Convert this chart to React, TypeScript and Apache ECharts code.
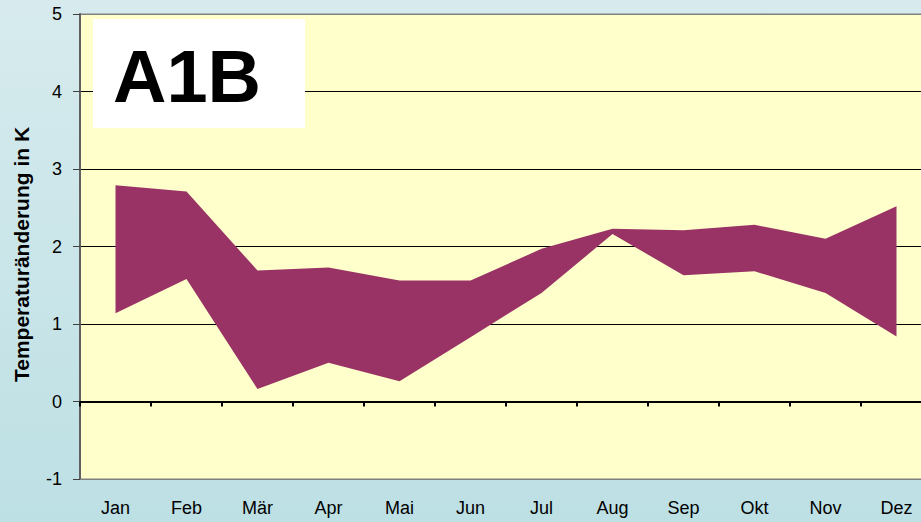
import React, { useEffect, useRef } from "react";
import * as echarts from "echarts";

const months = ["Jan", "Feb", "Mär", "Apr", "Mai", "Jun", "Jul", "Aug", "Sep", "Okt", "Nov", "Dez"];
const lowerValues = [1.14, 1.58, 0.16, 0.5, 0.26, 0.83, 1.4, 2.16, 1.63, 1.68, 1.4, 0.84];
const upperValues = [2.79, 2.71, 1.69, 1.73, 1.56, 1.56, 1.97, 2.23, 2.21, 2.28, 2.1, 2.52];
const yTicks = { min: -1, max: 5, interval: 1 };
const yAxisTitle = "Temperaturänderung in K";
const scenarioLabel = "A1B";

const FONT = "Arial, 'Liberation Sans', sans-serif";

export default function App() {
  const ref = useRef<HTMLDivElement>(null);
  useEffect(() => {
    if (!ref.current) return;
    const chart = echarts.init(ref.current, undefined, { renderer: "svg" });
    const diff = upperValues.map((u, i) => +(u - lowerValues[i]).toFixed(3));
    chart.setOption({
      animation: false,
      backgroundColor: "transparent",
      grid: {
        left: 80,
        top: 14,
        width: 852,
        height: 465,
        show: true,
        backgroundColor: "#FFFFCC",
        borderColor: "#808080",
        borderWidth: 1,
      },
      xAxis: [
        {
          type: "category",
          data: months,
          position: "bottom",
          boundaryGap: true,
          axisLine: { onZero: false, lineStyle: { color: "#808080", width: 1 } },
          axisTick: { show: false },
          axisLabel: { color: "#000", fontSize: 18, fontFamily: FONT, margin: 20 },
          splitLine: { show: false },
        },
        {
          type: "category",
          data: months,
          position: "top",
          boundaryGap: true,
          axisLine: { onZero: true, lineStyle: { color: "#000", width: 2 } },
          axisTick: { show: true, inside: true, length: 5, lineStyle: { color: "#000", width: 2 } },
          axisLabel: { show: false },
          splitLine: { show: false },
        },
      ],
      yAxis: {
        type: "value",
        min: yTicks.min,
        max: yTicks.max,
        interval: yTicks.interval,
        name: yAxisTitle,
        nameLocation: "middle",
        nameGap: 48,
        nameTextStyle: { color: "#000", fontSize: 21, fontWeight: "bold", fontFamily: FONT, padding: [0, 16, 0, 0] },
        axisLine: { show: true, lineStyle: { color: "#606060", width: 2 } },
        axisTick: { show: true, length: 7, lineStyle: { color: "#404040", width: 1 } },
        axisLabel: { color: "#000", fontSize: 18, fontFamily: FONT, margin: 18 },
        splitLine: {
          show: true,
          lineStyle: { color: ["#808080", "#000", "#000", "#000", "#000", "#000", "#808080"], width: 1 },
        },
      },
      series: [
        {
          type: "line",
          name: "min",
          stack: "band",
          data: lowerValues,
          symbol: "none",
          lineStyle: { width: 0, opacity: 0 },
          areaStyle: { opacity: 0 },
          silent: true,
        },
        {
          type: "line",
          name: "range",
          stack: "band",
          data: diff,
          symbol: "none",
          lineStyle: { width: 0, opacity: 0 },
          areaStyle: { color: "#993366", opacity: 1 },
          silent: true,
        },
      ],
      graphic: [
        {
          type: "rect",
          shape: { x: 93, y: 19, width: 212, height: 109 },
          style: { fill: "#FFFFFF" },
          z: 100,
        },
        {
          type: "text",
          x: 187,
          y: 76,
          style: {
            text: scenarioLabel,
            fill: "#000",
            font: `bold 74px ${FONT}`,
            textAlign: "center",
            textVerticalAlign: "middle",
          },
          z: 101,
        },
      ],
    });
    return () => chart.dispose();
  }, []);
  return (
    <div
      style={{
        position: "fixed",
        left: 0,
        top: 0,
        width: 921,
        height: 522,
        overflow: "hidden",
        background: "linear-gradient(180deg, #d7ebee 0%, #bde0e4 100%)",
      }}
    >
      <div ref={ref} style={{ width: 940, height: 522 }} />
    </div>
  );
}
